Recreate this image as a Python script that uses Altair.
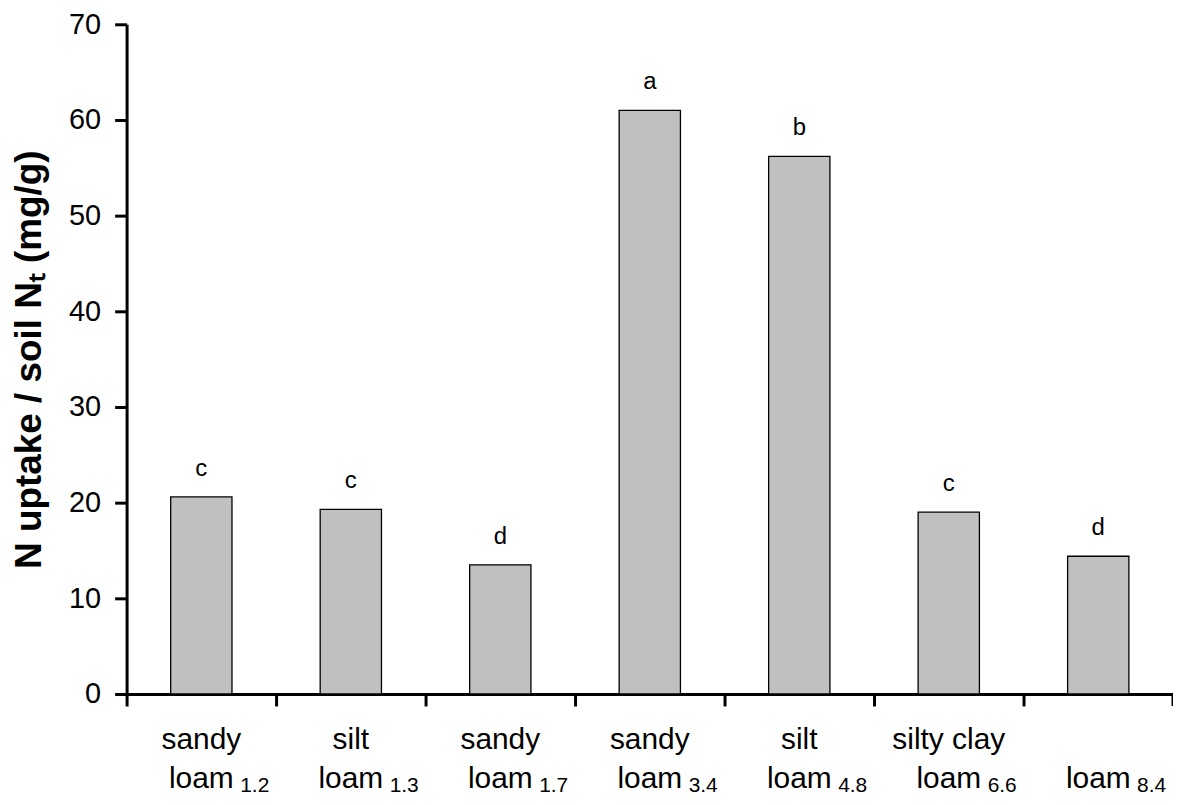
import altair as alt
import pandas as pd

# ---- data ----
categories = ["sandy loam 1.2", "silt loam 1.3", "sandy loam 1.7", "sandy loam 3.4",
              "silt loam 4.8", "silty clay loam 6.6", "loam 8.4"]
line1 = ["sandy", "silt", "sandy", "sandy", "silt", "silty clay", ""]
line2 = ["loam", "loam", "loam", "loam", "loam", "loam", "loam"]
subs = ["1.2", "1.3", "1.7", "3.4", "4.8", "6.6", "8.4"]
values = [20.6, 19.3, 13.5, 61.0, 56.2, 19.0, 14.4]
letters = ["c", "c", "d", "a", "b", "c", "d"]
y_ticks = [0, 10, 20, 30, 40, 50, 60, 70]

df = pd.DataFrame({"cat": categories, "l1": line1, "l2": line2, "sub": subs,
                   "value": values, "letter": letters})
last_df = pd.DataFrame({"cat": [categories[-1]]})

FONT = "Liberation Sans"
W, H = 1050, 672

xscale = alt.Scale(domain=categories, paddingInner=0, paddingOuter=0)
yscale = alt.Scale(domain=[0, 70], nice=False)

x_enc = alt.X("cat:N", sort=categories, scale=xscale,
              axis=alt.Axis(labels=False, title=None, ticks=True, tickSize=12,
                            tickWidth=3, tickColor="black", domainWidth=3,
                            domainColor="black", bandPosition=0, grid=False))
y_enc = alt.Y("value:Q", scale=yscale,
              axis=alt.Axis(values=y_ticks, grid=False, tickSize=12, tickWidth=3,
                            tickColor="black", domainWidth=3, domainColor="black",
                            labelFontSize=29, labelFont=FONT, labelColor="black",
                            labelPadding=14,
                            title="N uptake / soil Nₜ  (mg/g)",
                            titleFont=FONT, titleFontSize=37, titleFontWeight="bold",
                            titleColor="black", titlePadding=20))

bars = alt.Chart(df).mark_bar(
    width=alt.RelativeBandSize(0.41), color="#c0c0c0", stroke="black", strokeWidth=1.3
).encode(x=x_enc, y=y_enc)

letters_layer = alt.Chart(df).mark_text(
    baseline="alphabetic", dy=-21, fontSize=24, font=FONT, color="black"
).encode(x=alt.X("cat:N", sort=categories, scale=xscale),
         y=alt.Y("value:Q", scale=yscale), text="letter:N")

lab1 = alt.Chart(df).mark_text(
    baseline="alphabetic", align="center", fontSize=30, font=FONT, color="black"
).encode(x=alt.X("cat:N", sort=categories, scale=xscale),
         y=alt.value(H + 55), text="l1:N")

lab2 = alt.Chart(df).mark_text(
    baseline="alphabetic", align="center", fontSize=30, font=FONT, color="black"
).encode(x=alt.X("cat:N", sort=categories, scale=xscale),
         y=alt.value(H + 94), text="l2:N")

lab_sub = alt.Chart(df).mark_text(
    baseline="alphabetic", align="left", dx=39, fontSize=21, font=FONT, color="black"
).encode(x=alt.X("cat:N", sort=categories, scale=xscale),
         y=alt.value(H + 98), text="sub:N")

end_tick = alt.Chart(last_df).mark_rule(color="black", strokeWidth=3).encode(
    x=alt.X("cat:N", sort=categories, scale=xscale, bandPosition=1),
    y=alt.value(H), y2=alt.value(H + 12))

chart = alt.layer(bars, letters_layer, lab1, lab2, lab_sub, end_tick).properties(
    width=W, height=H,
    autosize=alt.AutoSizeParams(type="none"),
    padding={"left": 119, "top": 15, "right": 0, "bottom": 102},
).configure(background="white").configure_view(stroke=None, strokeWidth=0)

chart.save("out.html", embed_options={"renderer": "svg", "actions": False})
